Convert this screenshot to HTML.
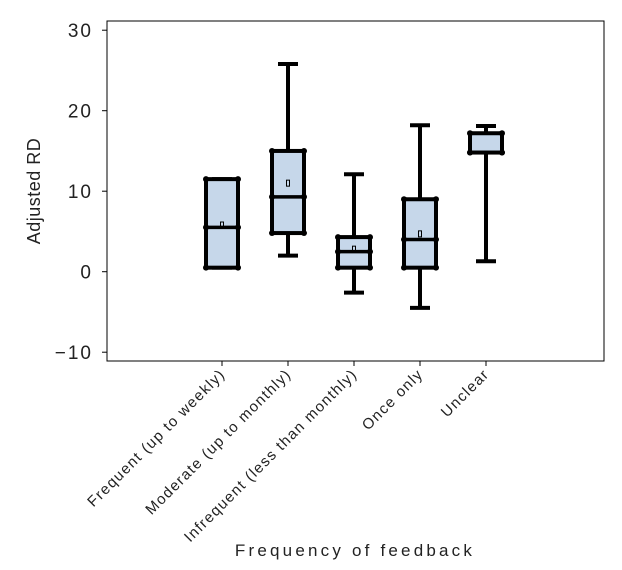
<!DOCTYPE html>
<html><head><meta charset="utf-8"><style>
body{margin:0;background:#fff}
svg text{font-family:"Liberation Sans",sans-serif;fill:#222}
</style></head><body>
<svg id="chart" width="622" height="565" xmlns="http://www.w3.org/2000/svg"></svg>
<script>
const categories=["Frequent (up to weekly)","Moderate (up to monthly)","Infrequent (less than monthly)","Once only","Unclear"];
const mins=[0.5,2.0,-2.6,-4.5,1.3];
const q1s=[0.5,4.8,0.5,0.5,14.8];
const medians=[5.5,9.3,2.5,4.0,14.8];
const q3s=[11.5,15.0,4.3,9.0,17.2];
const maxs=[11.5,25.8,12.1,18.2,18.1];
const means=[5.8,11.0,2.8,4.7,13.6];
const yTicks=[30,20,10,0,-10];
const yTickLabels=["30","20","10","0","\u221210"];
const NS="http://www.w3.org/2000/svg";
const svg=document.getElementById('chart');
const L=107,R=604,T=21,B=361;
const y=v=>271.7-v*8.05;
const x=i=>222+i*66;
function mk(tag,attrs,parent){const e=document.createElementNS(NS,tag);for(const k in attrs)e.setAttribute(k,attrs[k]);(parent||svg).appendChild(e);return e;}
let frame=mk('rect',{x:L,y:T,width:R-L,height:B-T,fill:'none',stroke:'#000','stroke-width':1});


yTicks.forEach((t,i)=>{
  let l=mk('line',{x1:L-5,x2:L,y1:y(t),y2:y(t),stroke:'#000'});
  
  
  let tx=mk('text',{x:L-14,y:y(t)+7,'text-anchor':'end','font-size':19,fill:'#333','letter-spacing':'2'});
  tx.textContent=yTickLabels[i];
  
  
});
let yt=mk('text',{transform:'translate(40,191) rotate(-90)','text-anchor':'middle','font-size':18,fill:'#333','letter-spacing':'0.5'});
yt.textContent='Adjusted RD';


let xt=mk('text',{x:355,y:556,'text-anchor':'middle','font-size':17,fill:'#333','letter-spacing':'3.2'});
xt.textContent='Frequency of feedback';


const hw=16;
categories.forEach((c,i)=>{
  const cx=x(i);
  let tk=mk('line',{x1:cx,x2:cx,y1:B,y2:B+5,stroke:'#000'});
  
  
  let lb=mk('text',{transform:`translate(${cx+4},${B+14}) rotate(-45)`,'text-anchor':'end','font-size':15,fill:'#333','letter-spacing':'1.3'});
  lb.textContent=c;
  
  
  const g=mk('g',{});
  
  
  mk('line',{x1:cx,x2:cx,y1:y(maxs[i]),y2:y(mins[i]),stroke:'#000','stroke-width':4},g);
  mk('line',{x1:cx-10,x2:cx+10,y1:y(maxs[i]),y2:y(maxs[i]),stroke:'#000','stroke-width':4},g);
  mk('line',{x1:cx-10,x2:cx+10,y1:y(mins[i]),y2:y(mins[i]),stroke:'#000','stroke-width':4},g);
  mk('rect',{x:cx-hw,y:y(q3s[i]),width:2*hw,height:y(q1s[i])-y(q3s[i]),fill:'#c6d7ea',stroke:'#000','stroke-width':4},g);
  mk('line',{x1:cx-hw,x2:cx+hw,y1:y(medians[i]),y2:y(medians[i]),stroke:'#000','stroke-width':3.5},g);
  [[cx-hw,y(q3s[i])],[cx+hw,y(q3s[i])],[cx-hw,y(q1s[i])],[cx+hw,y(q1s[i])],[cx-hw,y(medians[i])],[cx+hw,y(medians[i])]].forEach(p=>mk('circle',{cx:p[0],cy:p[1],r:3,fill:'#000'},g));
  let m=mk('rect',{x:cx-1.5,y:y(means[i])-3,width:3,height:6,fill:'none',stroke:'#000','stroke-width':1},g);
  
  
});
</script>
</body></html>
